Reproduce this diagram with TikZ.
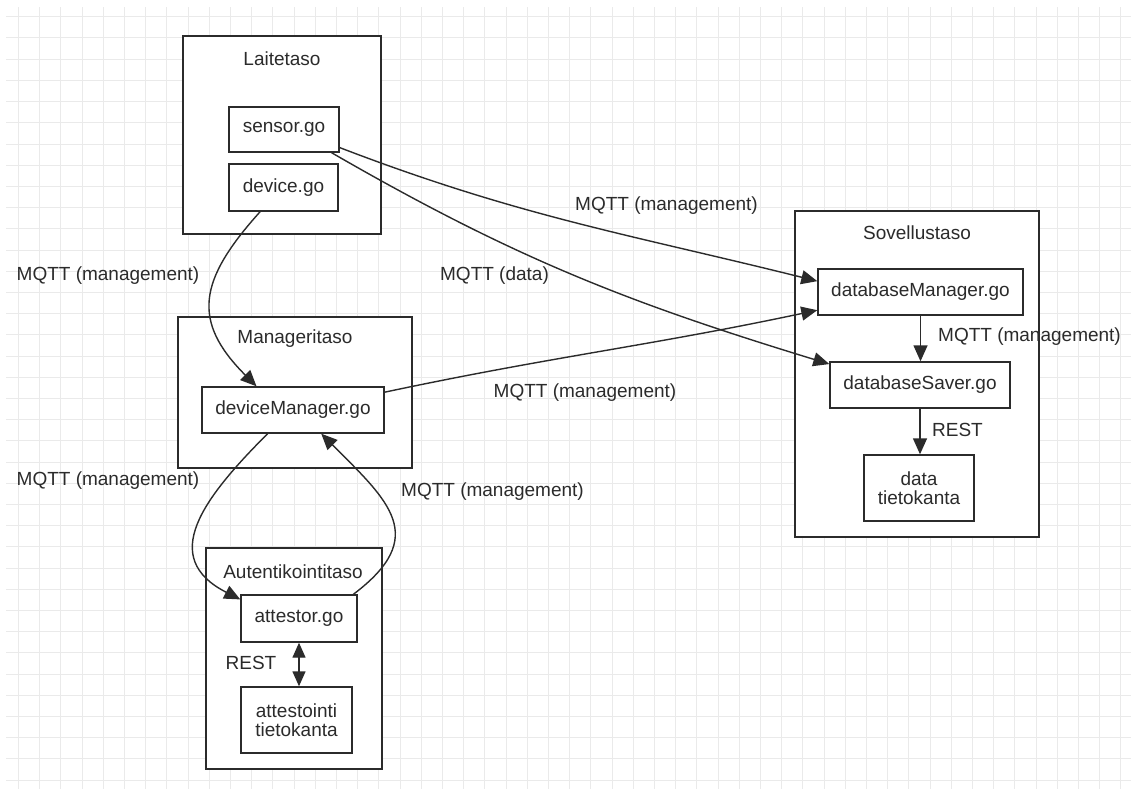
\documentclass[tikz,border=0pt]{standalone}
\usepackage{fontspec}
\setmainfont{Liberation Sans}
\usetikzlibrary{arrows.meta}

\definecolor{ink}{HTML}{2B2B2B}
\definecolor{gridgray}{HTML}{EAEAEA}

\tikzset{
	layerbox/.style={draw=ink,line width=1.6pt,fill=white,inner sep=0pt},
	filebox/.style={draw=ink,line width=1.4pt,fill=white,inner sep=0pt,align=center,text=ink},
	title/.style={text=ink},
	msglabel/.style={text=ink},
	msg/.style={draw=ink,line width=1.4pt,-{Triangle[length=16pt,width=14pt]}},
}

\begin{document}
\begin{tikzpicture}[x=1pt,y=-1pt,font=\fontsize{19}{22}\selectfont]
		\useasboundingbox (0,0) rectangle (1131,789);
		\foreach \i in {0,...,52}
			\draw[gridgray,line width=0.8pt] (18.3+21.2*\i,7) -- (18.3+21.2*\i,789);
		\foreach \j in {0,...,36}
			\draw[gridgray,line width=0.8pt] (6,16.7+21.2*\j) -- (1131,16.7+21.2*\j);

		\node[layerbox,minimum width=198pt,minimum height=198pt] (laite) at (282,135) {};
		\node[title] (laitetitle) at (282,59) {Laitetaso};
		\node[filebox,minimum width=110pt,minimum height=45pt] (sensor) at (284,129.5) {sensor.go};
		\node[filebox,minimum width=109pt,minimum height=47pt] (device) at (283.5,187.5) {device.go};

		\node[layerbox,minimum width=234pt,minimum height=151pt] (manager) at (295,392.5) {};
		\node[title] (managertitle) at (295,339) {Manageritaso};
		\node[filebox,minimum width=182pt,minimum height=46pt] (devmgr) at (293,410) {deviceManager.go};

		\node[layerbox,minimum width=176pt,minimum height=221pt] (auth) at (294,658.5) {};
		\node[title] (authtitle) at (293,572) {Autentikointitaso};
		\node[filebox,minimum width=116pt,minimum height=47pt] (attestor) at (299,618.5) {attestor.go};
		\node[filebox,minimum width=111pt,minimum height=66pt] (attdb) at (296.5,720) {attestointi\\[-3pt]tietokanta};

		\node[layerbox,minimum width=244pt,minimum height=326pt] (sovellus) at (917,374) {};
		\node[title] (sovellustitle) at (917,233) {Sovellustaso};
		\node[filebox,minimum width=205pt,minimum height=46pt] (dbmgr) at (920.5,292) {databaseManager.go};
		\node[filebox,minimum width=180pt,minimum height=46pt] (dbsaver) at (920,385) {databaseSaver.go};
		\node[filebox,minimum width=110pt,minimum height=66pt] (datadb) at (919,488) {data\\[-3pt]tietokanta};

		\draw[msg] (sensor.-18) to[out=-21,in=166] (dbmgr.174);
		\draw[msg] (sensor.-26) to[out=-30,in=163] (dbsaver.167);
		\draw[msg] (device.-134) to[out=-132,in=135,looseness=1.35] (devmgr.147);
		\draw[msg] (devmgr.11) to[out=12,in=-168] (dbmgr.-170);
		\draw[msg] (devmgr.-137) to[out=-135,in=153,looseness=1.4] (attestor.162);
		\draw[msg] (attestor.24) to[out=37,in=-45,looseness=1.5] (devmgr.-40);
		\draw[msg] (dbmgr.south) -- (dbmgr.south |- dbsaver.north);
		\draw[msg] (dbsaver.south) -- (dbsaver.south |- datadb.north);
		\draw[msg,{Triangle[length=15pt,width=13pt]}-{Triangle[length=15pt,width=13pt]}] (attestor.south) -- (attestor.south |- attdb.north);

		\node[msglabel] (lblsensor) at (666.5,206) {MQTT (management)};
		\node[msglabel] (lbldata) at (494.5,276) {MQTT (data)};
		\node[msglabel] (lbldevmgr) at (585,393) {MQTT (management)};
		\node[msglabel] (lbldevice) at (108,276) {MQTT (management)};
		\node[msglabel] (lblauthin) at (108,481) {MQTT (management)};
		\node[msglabel] (lblauthout) at (492.5,492) {MQTT (management)};
		\node[msglabel] (lbldbmgr) at (1029.5,337) {MQTT (management)};
		\node[msglabel] (lblrestdb) at (957.5,430) {REST};
		\node[msglabel] (lblrestatt) at (251,663) {REST};
\end{tikzpicture}
\end{document}
